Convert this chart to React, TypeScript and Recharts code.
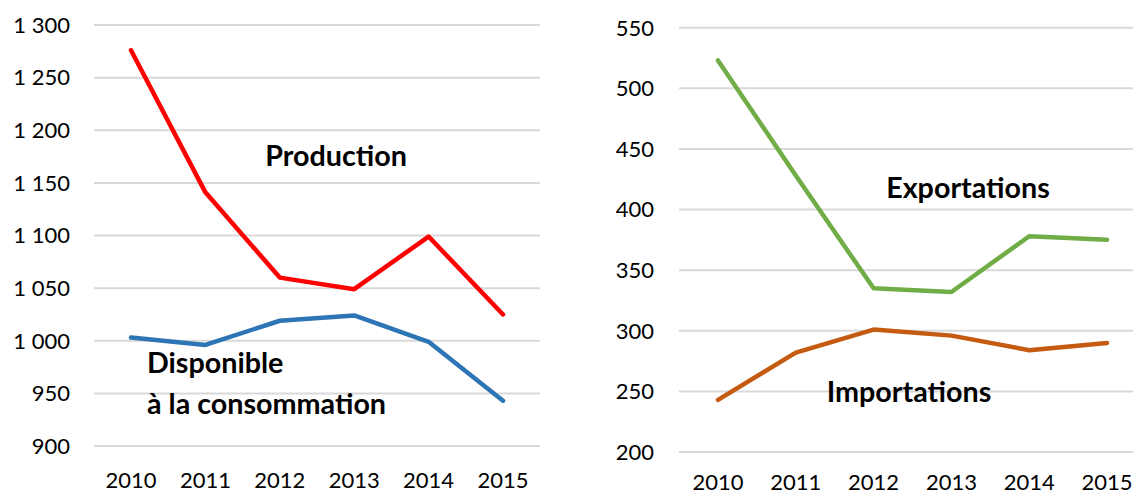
import React from 'react';
import { LineChart, Line, XAxis, YAxis, CartesianGrid } from 'recharts';

const years = ['2010', '2011', '2012', '2013', '2014', '2015'];
const production = [1276, 1141, 1060, 1049, 1099, 1025];
const disponible = [1003, 996, 1019, 1024, 999, 943];
const exportations = [523, 428, 335, 332, 378, 375];
const importations = [243, 282, 301, 296, 284, 290];
const leftTicks = [900, 950, 1000, 1050, 1100, 1150, 1200, 1250, 1300];
const rightTicks = [200, 250, 300, 350, 400, 450, 500, 550];

const leftData = years.map((year, i) => ({ year, production: production[i], disponible: disponible[i] }));
const rightData = years.map((year, i) => ({ year, exportations: exportations[i], importations: importations[i] }));

const FONT = 'Lato, "Liberation Sans", sans-serif';
const fmt = (v: number) => String(v).replace(/\B(?=(\d{3})+(?!\d))/g, ' ');
const tickStyle = { fill: '#000', fontSize: 22, fontFamily: FONT };
const labelStyle: React.CSSProperties = { fontFamily: FONT, fontWeight: 700, fontSize: 28.7, fill: '#000' };

export default function App() {
  return (
    <div style={{ position: 'absolute', left: 0, top: 0, width: 1133, height: 495, overflow: 'hidden', background: '#fff' }}>
      <div style={{ position: 'absolute', left: 0, top: 0 }}>
        <LineChart width={560} height={495} data={leftData} margin={{ top: 25, right: 20, bottom: 0, left: 0 }}>
          <CartesianGrid vertical={false} stroke="#d9d9d9" strokeWidth={2} />
          <XAxis dataKey="year" axisLine={false} tickLine={false} tickSize={0} tickMargin={26} height={49}
            padding={{ left: 37, right: 37 }} interval={0} tick={tickStyle} />
          <YAxis domain={[900, 1300]} ticks={leftTicks} width={94} axisLine={false} tickLine={false} tickSize={0}
            tickMargin={24} tickFormatter={fmt} tick={tickStyle} interval={0} />
          <Line dataKey="production" stroke="#ff0000" strokeWidth={4.5} dot={false} isAnimationActive={false}
            strokeLinecap="round" strokeLinejoin="round" />
          <Line dataKey="disponible" stroke="#2e75b6" strokeWidth={4.5} dot={false} isAnimationActive={false}
            strokeLinecap="round" strokeLinejoin="round" />
        </LineChart>
      </div>
      <div style={{ position: 'absolute', left: 560, top: 0 }}>
        <LineChart width={600} height={495} data={rightData} margin={{ top: 27.7, right: 14, bottom: 0, left: 0 }}>
          <CartesianGrid vertical={false} stroke="#d9d9d9" strokeWidth={2} />
          <XAxis dataKey="year" axisLine={false} tickLine={false} tickSize={0} tickMargin={22} height={43}
            padding={{ left: 39, right: 39 }} interval={0} tick={tickStyle} />
          <YAxis domain={[200, 550]} ticks={rightTicks} width={119} axisLine={false} tickLine={false} tickSize={0}
            tickMargin={25} tickFormatter={fmt} tick={tickStyle} interval={0} />
          <Line dataKey="exportations" stroke="#70ad47" strokeWidth={4.5} dot={false} isAnimationActive={false}
            strokeLinecap="round" strokeLinejoin="round" />
          <Line dataKey="importations" stroke="#c55a11" strokeWidth={4.5} dot={false} isAnimationActive={false}
            strokeLinecap="round" strokeLinejoin="round" />
        </LineChart>
      </div>
      <svg width={1133} height={495} style={{ position: 'absolute', left: 0, top: 0, pointerEvents: 'none' }}>
        <text x={336} y={166} textAnchor="middle" style={labelStyle}>Production</text>
        <text x={147} y={373} textAnchor="start" style={labelStyle}>Disponible</text>
        <text x={147} y={414} textAnchor="start" style={labelStyle}>à la consommation</text>
        <text x={968} y={198} textAnchor="middle" style={labelStyle}>Exportations</text>
        <text x={909} y={402} textAnchor="middle" style={labelStyle}>Importations</text>
      </svg>
    </div>
  );
}
